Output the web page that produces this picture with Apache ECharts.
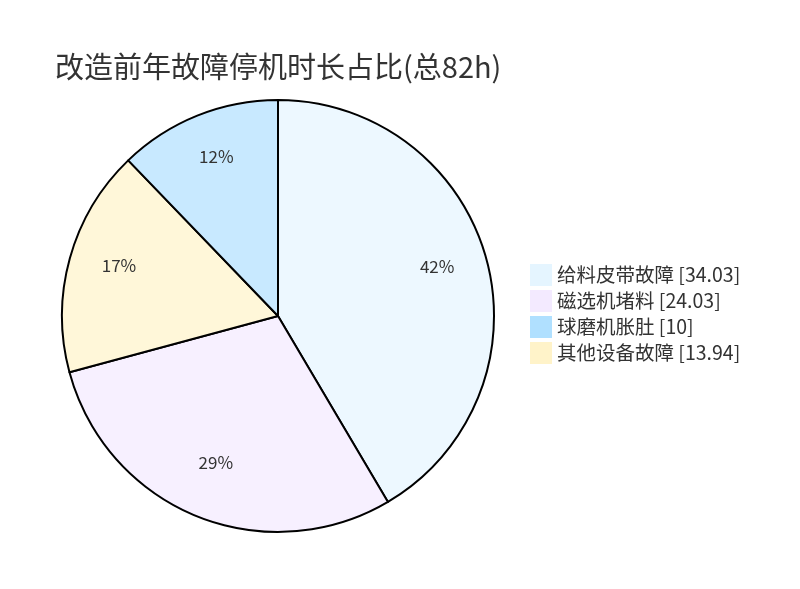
<!DOCTYPE html>
<html><head><meta charset="utf-8">
<script src="https://cdn.jsdelivr.net/npm/echarts@6/dist/echarts.min.js"></script>
<style>html,body{margin:0;padding:0;background:#fff}#c{width:800px;height:589px}</style>
</head><body><div id="c"></div>
<script>
var titleText = '改造前年故障停机时长占比(总82h)';
var categories = ['给料皮带故障', '磁选机堵料', '球磨机胀肚', '其他设备故障'];
var values = [34.03, 24.03, 10, 13.94];
var legendColors = ['#E5F5FF', '#F3EAFF', '#B0E0FF', '#FFF3C9'];

function blend(hex, a) {
  var r = parseInt(hex.substr(1,2),16), g = parseInt(hex.substr(3,2),16), b = parseInt(hex.substr(5,2),16);
  function f(c){ return Math.round(255 - a*(255-c)); }
  return 'rgb(' + f(r) + ',' + f(g) + ',' + f(b) + ')';
}
var items = categories.map(function(n, i){ return {name: n, value: values[i], itemStyle: {color: blend(legendColors[i], 0.7)}}; });
items.sort(function(a, b){ return b.value - a.value; });
var total = values.reduce(function(s, v){ return s + v; }, 0);
var font = '"Noto Sans CJK SC", sans-serif';
var R = 216;
var chart = echarts.init(document.getElementById('c'));
chart.setOption({
  animation: false,
  title: {text: titleText, left: 55, top: 52, padding: 0, textStyle: {fontFamily: font, fontSize: 29, fontWeight: 'normal', color: '#333'}},
  legend: {
    orient: 'vertical', left: 530, top: 264, padding: 0, itemWidth: 22, itemHeight: 22, itemGap: 4, icon: 'rect',
    data: categories.map(function(n, i){ return {name: n, itemStyle: {color: legendColors[i], borderWidth: 0}}; }),
    formatter: function(n){ return n + ' [' + values[categories.indexOf(n)] + ']'; },
    textStyle: {fontFamily: font, fontSize: 19.5, color: '#333'}
  },
  series: [{
    type: 'pie', center: [278, 316], radius: [0, R], startAngle: 90, clockwise: true,
    data: items, label: {show: false}, labelLine: {show: false},
    itemStyle: {borderColor: '#000', borderWidth: 2}, emphasis: {disabled: true}
  }, {
    type: 'pie', center: [278, 316], radius: [R*0.5, R], startAngle: 90, clockwise: true, silent: true,
    data: items.map(function(d){ return {name: d.name, value: d.value}; }),
    itemStyle: {color: 'rgba(0,0,0,0)', borderWidth: 0},
    label: {show: true, position: 'inside', offset: [0, -6], fontFamily: font, fontSize: 17, color: '#333',
      formatter: function(p){ return Math.round(p.value / total * 100) + '%'; }},
    labelLine: {show: false}, legendHoverLink: false
  }]
});
</script></body></html>
